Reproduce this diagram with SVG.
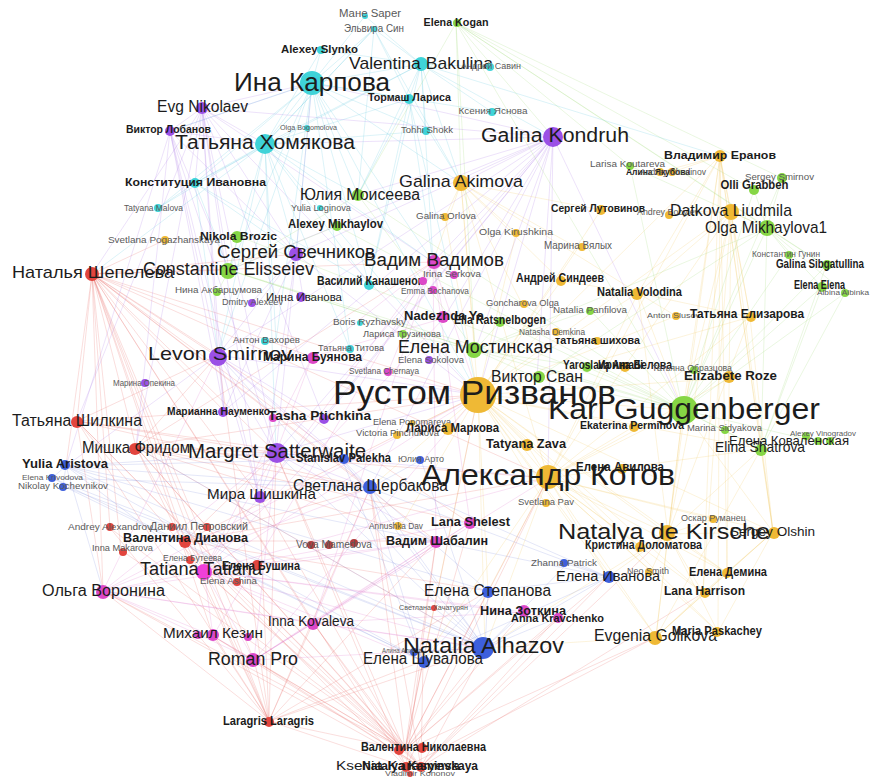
<svg xmlns="http://www.w3.org/2000/svg" width="873" height="777" viewBox="0 0 873 777">
<style>
text{font-family:"Liberation Sans",Arial,sans-serif;text-anchor:middle;fill:#1c1c1c}
.b{font-weight:bold}
.s{fill:#5a5a5a}
.pu{fill:#9b50e6}.cy{fill:#3fd3d8}.gr{fill:#86d645}.or{fill:#efb935}.re{fill:#e2453e}.ma{fill:#dc48c8}.bl{fill:#3d5fdc}.dr{fill:#b23a3a}
.e{fill:none;stroke-width:.6;stroke-opacity:.36}
</style>
<rect width="873" height="777" fill="#ffffff"/>
<g id="edges">
<path class="e" stroke="#e8625e" d="M92 274L77 421M92 274L136 447M92 274L276 453M92 274L259 496M92 274L185 541M92 274L204 571M92 274L103 591M92 274L213 636M92 274L254 660M92 274L110 528M92 274L370 488M92 274L312 357M92 274L218 355M92 274L433 262M92 274L296 254M92 274L478 395M92 274L342 459M92 274L436 541M92 274L313 623M92 274L121 550M92 274L269 721M92 274L224 411M92 274L548 478M92 274L470 523M92 274L229 270M92 274L165 240M92 274L66 466M405 750L269 721M405 750L254 660M405 750L213 636M405 750L103 591M405 750L204 571M405 750L185 541M405 750L313 623M405 750L423 661M405 750L485 648M405 750L488 591M405 750L524 612M405 750L557 618M405 750L436 541M405 750L470 523M405 750L370 488M405 750L276 453M405 750L136 447M405 750L77 421M405 750L548 478M405 750L608 577M405 750L656 637M405 750L478 395M405 750L259 496M405 750L110 528M405 750L121 550M421 767L254 660M421 767L103 591M421 767L213 636M421 767L313 623M421 767L204 571M421 767L485 648M421 767L423 661M421 767L703 593M421 767L668 534M421 767L370 488M421 767L136 447M421 767L77 421M421 767L608 577M421 767L557 618M406 767L269 721M406 767L185 541M406 767L436 541M406 767L276 453M406 767L548 478M406 767L656 637M406 767L92 274M269 721L254 660M269 721L213 636M269 721L103 591M269 721L204 571M269 721L185 541M269 721L313 623M269 721L423 661M269 721L485 648M269 721L370 488M269 721L276 453M269 721L136 447M269 721L77 421M269 721L259 496M269 721L436 541M269 721L110 528M269 721L488 591M269 721L218 355M136 447L276 453M136 447L370 488M136 447L478 395M136 447L548 478M136 447L204 571M136 447L436 541M136 447L470 523M136 447L218 355M136 447L433 262M136 447L485 648M77 421L276 453M77 421L218 355M77 421L370 488M77 421L204 571M77 421L103 591M77 421L478 395M77 421L342 459M185 541L370 488M185 541L478 395M185 541L548 478M185 541L436 541M185 541L488 591M185 541L276 453"/>
<path class="e" stroke="#e070cc" d="M204 571L103 591M204 571L213 636M204 571L254 660M204 571L313 623M204 571L436 541M204 571L470 523M204 571L433 262M204 571L312 357M204 571L444 318M204 571L524 612M204 571L557 618M204 571L276 453M204 571L478 395M204 571L548 478M204 571L423 661M204 571L485 648M254 660L103 591M254 660L213 636M254 660L313 623M254 660L470 523M254 660L436 541M254 660L548 478M254 660L478 395M254 660L485 648M254 660L276 453M103 591L213 636M103 591L313 623M103 591L276 453M103 591L370 488M103 591L436 541M103 591L478 395M103 591L485 648M103 591L218 355M433 262L444 318M433 262L452 275M433 262L388 372M433 262L312 357M433 262L470 523M433 262L436 541M433 262L478 395M433 262L313 623M433 262L213 636M313 623L436 541M313 623L470 523M313 623L524 612M313 623L485 648M313 623L370 488M312 357L444 318M312 357L478 395M312 357L276 453"/>
<path class="e" stroke="#a878e8" d="M553 137L433 262M553 137L444 318M553 137L475 350M553 137L478 395M553 137L296 254M553 137L218 355M553 137L276 453M553 137L461 183M553 137L358 195M553 137L265 144M553 137L312 83M553 137L537 378M553 137L683 410M553 137L548 478M553 137L224 411M553 137L324 419M553 137L259 496M553 137L202 108M553 137L229 270M553 137L370 488M202 108L265 144M202 108L312 83M202 108L218 355M202 108L276 453M202 108L296 254M202 108L229 270M202 108L195 183M202 108L170 131M202 108L259 496M202 108L77 421M202 108L136 447M202 108L224 411M202 108L324 419M202 108L478 395M202 108L433 262M202 108L92 274M170 131L265 144M170 131L218 355M170 131L276 453M170 131L296 254M170 131L229 270M170 131L224 411M170 131L259 496M170 131L66 466M170 131L136 447M170 131L312 83M218 355L276 453M218 355L224 411M218 355L324 419M218 355L259 496M218 355L296 254M218 355L478 395M218 355L370 488M218 355L66 466M218 355L342 459M296 254L276 453M296 254L224 411M296 254L259 496M296 254L478 395M296 254L252 302M296 254L303 297M296 254L312 83M276 453L478 395M276 453L548 478M276 453L370 488M276 453L342 459M276 453L259 496M276 453L436 541"/>
<path class="e" stroke="#5cc8dc" d="M312 83L421 64M312 83L321 50M312 83L374 29M312 83L365 16M312 83L409 99M312 83L265 144M312 83L195 183M312 83L358 195M312 83L461 183M312 83L170 131M312 83L229 270M312 83L296 254M312 83L369 284M312 83L492 112M312 83L426 131M312 83L350 349M312 83L276 340M312 83L158 208M312 83L433 262M312 83L478 395M312 83L218 355M265 144L421 64M265 144L321 50M265 144L409 99M265 144L195 183M265 144L358 195M265 144L229 270M265 144L296 254M265 144L369 284M265 144L158 208M265 144L426 131M265 144L218 355M265 144L276 453M265 144L433 262M265 144L478 395M265 144L350 349M265 144L92 274M265 144L276 340M265 144L374 29M421 64L490 67M421 64L492 112M421 64L426 131M421 64L409 99M421 64L461 183M421 64L553 137M421 64L374 29M421 64L365 16M421 64L433 262M421 64L720 156M421 64L358 195M421 64L369 284M421 64L195 183M421 64L321 50M195 183L229 270M195 183L296 254M195 183L218 355M195 183L369 284M195 183L158 208M409 99L461 183M409 99L358 195M409 99L433 262M409 99L369 284M409 99L478 395M374 29L409 99M374 29L358 195M374 29L461 183M374 29L265 144"/>
<path class="e" stroke="#f0c458" d="M478 395L548 478M478 395L683 410M478 395L668 534M478 395L656 637M478 395L727 573M478 395L703 593M478 395L718 632M478 395L750 317M478 395L731 212M478 395L720 156M478 395L638 293M478 395L561 281M478 395L601 210M478 395L461 183M478 395L527 445M478 395L448 429M478 395L633 427M478 395L640 547M478 395L773 532M478 395L485 648M478 395L423 661M478 395L370 488M478 395L545 503M478 395L730 378M478 395L676 316M478 395L578 248M478 395L516 233M478 395L445 217M478 395L761 449M478 395L608 577M478 395L488 591M478 395L397 435M478 395L400 527M548 478L668 534M548 478L656 637M548 478L718 632M548 478L703 593M548 478L727 573M548 478L773 532M548 478L640 547M548 478L683 410M548 478L761 449M548 478L731 212M548 478L720 156M548 478L750 317M548 478L638 293M548 478L485 648M548 478L608 577M548 478L527 445M548 478L633 427M548 478L730 378M548 478L651 571M548 478L713 519M548 478L423 661M548 478L488 591M668 534L656 637M668 534L718 632M668 534L703 593M668 534L727 573M668 534L773 532M668 534L713 519M668 534L761 449M668 534L720 156M668 534L731 212M668 534L750 317M668 534L638 293M668 534L683 410M668 534L651 571M668 534L485 648M668 534L608 577M731 212L720 156M731 212L767 228M731 212L638 293M731 212L750 317M731 212L683 410M731 212L773 532M731 212L727 573M731 212L703 593M731 212L601 210M731 212L669 215M720 156L660 172M720 156L672 172M720 156L683 410M720 156L750 317M720 156L638 293M720 156L773 532M720 156L727 573M720 156L761 449M720 156L703 593M720 156L718 632M461 183L445 217M461 183L516 233M461 183L578 248M461 183L561 281M461 183L433 262M461 183L475 350M461 183L601 210M461 183L638 293M461 183L523 306M461 183L548 478M656 637L718 632M656 637L703 593M656 637L727 573M656 637L773 532M656 637L485 648M656 637L683 410M656 637L761 449M773 532L718 632M773 532L703 593M773 532L727 573M773 532L761 449M773 532L683 410M773 532L750 317M638 293L750 317M638 293L683 410M638 293L561 281M638 293L676 316"/>
<path class="e" stroke="#9ed870" d="M683 410L767 228M683 410L754 190M683 410L782 178M683 410L630 166M683 410L826 266M683 410L822 287M683 410L845 293M683 410L761 449M683 410L723 430M683 410L537 378M683 410L475 350M683 410L500 322M683 410L810 440M683 410L456 23M683 410L590 310M683 410L358 195M683 410L229 270M683 410L789 255M683 410L587 367M683 410L337 226M683 410L238 236M456 23L630 166M456 23L754 190M456 23L767 228M456 23L553 137M456 23L782 178M456 23L826 266M456 23L475 350M456 23L461 183M456 23L358 195M767 228L754 190M767 228L782 178M767 228L826 266M767 228L822 287M767 228L845 293M767 228L789 255M767 228L630 166M767 228L761 449M767 228L537 378M767 228L475 350M475 350L500 322M475 350L537 378M475 350L590 310M475 350L404 334M475 350L358 195M475 350L229 270M475 350L587 367M229 270L238 236M229 270L218 291M229 270L358 195M229 270L337 226M229 270L475 350M761 449L810 440M761 449L723 430M761 449L826 266M761 449L822 287M761 449L845 293"/>
<path class="e" stroke="#7f90e0" d="M485 648L423 661M485 648L488 591M485 648L608 577M485 648L567 564M485 648L370 488M485 648L342 459M485 648L421 460M485 648L66 466M485 648L52 478M485 648L63 486M485 648L276 453M485 648L524 612M485 648L557 618M485 648L434 608M485 648L412 652M485 648L136 447M485 648L218 355M66 466L370 488M66 466L423 661M66 466L342 459M66 466L276 453M66 466L52 478M66 466L63 486M66 466L488 591M66 466L608 577M66 466L204 571M66 466L103 591M370 488L342 459M370 488L421 460M370 488L423 661M370 488L488 591M370 488L608 577M370 488L52 478M608 577L488 591M608 577L567 564M608 577L423 661M608 577L342 459M423 661L488 591M423 661L342 459M423 661L63 486M423 661L52 478"/>
</g>
<g id="n_mane"><circle class="cy" cx="365" cy="16" r="3"/><text class="s" x="370" y="17" font-size="10" textLength="62" lengthAdjust="spacingAndGlyphs">Мане Saper</text></g>
<g id="n_elvira"><circle class="cy" cx="374" cy="29" r="3"/><text class="s" x="374" y="32" font-size="10" textLength="60" lengthAdjust="spacingAndGlyphs">Эльвира Син</text></g>
<g id="n_kogan"><circle class="gr" cx="457" cy="23" r="4"/><text class="b" x="456" y="25.5" font-size="10" textLength="65" lengthAdjust="spacingAndGlyphs">Elena Kogan</text></g>
<g id="n_slynko"><circle class="cy" cx="321" cy="50" r="4"/><text class="b" x="319.5" y="53" font-size="11" textLength="77" lengthAdjust="spacingAndGlyphs">Alexey Slynko</text></g>
<g id="n_bakulina"><circle class="cy" cx="421" cy="64" r="7"/><text x="421" y="69" font-size="17" textLength="144" lengthAdjust="spacingAndGlyphs">Valentina  Bakulina</text></g>
<g id="n_savin"><circle class="cy" cx="490" cy="67" r="4"/><text class="s" x="491" y="69" font-size="9" textLength="60" lengthAdjust="spacingAndGlyphs">Андрей Савин</text></g>
<g id="n_karpova"><circle class="cy" cx="312" cy="83" r="12"/><text x="312" y="91" font-size="25" textLength="156" lengthAdjust="spacingAndGlyphs">Ина Карпова</text></g>
<g id="n_tormash"><circle class="cy" cx="409" cy="99" r="5"/><text class="b" x="409.5" y="101" font-size="11" textLength="83" lengthAdjust="spacingAndGlyphs">Тормаш Лариса</text></g>
<g id="n_yasnova"><circle class="cy" cx="492" cy="112" r="4"/><text class="s" x="493" y="114" font-size="9.5" textLength="69" lengthAdjust="spacingAndGlyphs">Ксения Яснова</text></g>
<g id="n_nikolaev"><circle class="pu" cx="202" cy="108" r="6"/><text x="202.5" y="111.6" font-size="16" textLength="91" lengthAdjust="spacingAndGlyphs">Evg  Nikolaev</text></g>
<g id="n_lobanov"><circle class="pu" cx="170" cy="131" r="5"/><text class="b" x="168.5" y="132.5" font-size="10" textLength="85" lengthAdjust="spacingAndGlyphs">Виктор Лобанов</text></g>
<g id="n_bogomolova"><circle class="cy" cx="307" cy="128" r="3"/><text class="s" x="308.5" y="129.5" font-size="7" textLength="57" lengthAdjust="spacingAndGlyphs">Olga Bogomolova</text></g>
<g id="n_homyakova"><circle class="cy" cx="265" cy="144" r="10"/><text x="265" y="149" font-size="20" textLength="180" lengthAdjust="spacingAndGlyphs">Татьяна Хомякова</text></g>
<g id="n_shokk"><circle class="cy" cx="426" cy="131" r="4"/><text class="s" x="427" y="133" font-size="9" textLength="52" lengthAdjust="spacingAndGlyphs">Tohhi Shokk</text></g>
<g id="n_kondruh"><circle class="pu" cx="553" cy="137" r="10"/><text x="555" y="142" font-size="20" textLength="148" lengthAdjust="spacingAndGlyphs">Galina  Kondruh</text></g>
<g id="n_konst"><circle class="cy" cx="195" cy="183" r="5"/><text class="b" x="195.5" y="185.5" font-size="10" textLength="141" lengthAdjust="spacingAndGlyphs">Конституция Ивановна</text></g>
<g id="n_moiseeva"><circle class="gr" cx="358" cy="195" r="6"/><text x="360" y="199.6" font-size="16" textLength="120" lengthAdjust="spacingAndGlyphs">Юлия Моисеева</text></g>
<g id="n_akimova"><circle class="or" cx="461" cy="183" r="8"/><text x="461" y="187" font-size="17" textLength="124" lengthAdjust="spacingAndGlyphs">Galina Akimova</text></g>
<g id="n_eranov"><circle class="or" cx="720" cy="156" r="6"/><text class="b" x="720" y="159" font-size="11" textLength="112" lengthAdjust="spacingAndGlyphs">Владимир Еранов</text></g>
<g id="n_koutareva"><circle class="gr" cx="630" cy="166" r="4"/><text class="s" x="627.5" y="167" font-size="9" textLength="75" lengthAdjust="spacingAndGlyphs">Larisa Koutareva</text></g>
<g id="n_alina"><circle class="or" cx="660" cy="172" r="4"/><circle class="or" cx="672" cy="172" r="4"/><text class="b" x="658" y="175" font-size="9" textLength="64" lengthAdjust="spacingAndGlyphs">Алина Якубова</text><text class="s" x="673" y="175" font-size="8.5" textLength="66" lengthAdjust="spacingAndGlyphs">Andrey Chudinov</text></g>
<g id="n_smirnov"><circle class="gr" cx="782" cy="178" r="5"/><text class="s" x="779.5" y="180" font-size="9.5" textLength="69" lengthAdjust="spacingAndGlyphs">Sergey Smirnov</text></g>
<g id="n_grabbeh"><circle class="gr" cx="754" cy="190" r="5"/><text class="b" x="754.5" y="189" font-size="12" textLength="68" lengthAdjust="spacingAndGlyphs">Olli  Grabbeh</text></g>
<g id="n_malova"><circle class="cy" cx="158" cy="208" r="4"/><text class="s" x="153.5" y="211" font-size="8.5" textLength="59" lengthAdjust="spacingAndGlyphs">Tatyana Malova</text></g>
<g id="n_loginova"><circle class="cy" cx="320" cy="208" r="3"/><text class="s" x="321" y="211" font-size="8.5" textLength="60" lengthAdjust="spacingAndGlyphs">Yulia Loginova</text></g>
<g id="n_mikhaylov"><circle class="gr" cx="337" cy="226" r="5"/><text class="b" x="335.5" y="228" font-size="12" textLength="95" lengthAdjust="spacingAndGlyphs">Alexey Mikhaylov</text></g>
<g id="n_gorlova"><circle class="or" cx="445" cy="217" r="4"/><text class="s" x="446" y="219" font-size="9" textLength="60" lengthAdjust="spacingAndGlyphs">Galina Orlova</text></g>
<g id="n_lutovinov"><circle class="or" cx="601" cy="210" r="5"/><text class="b" x="598" y="212" font-size="11" textLength="94" lengthAdjust="spacingAndGlyphs">Сергей Лутовинов</text></g>
<g id="n_andreyb"><circle class="or" cx="669" cy="215" r="4"/><text class="s" x="668" y="215" font-size="8.5" textLength="62" lengthAdjust="spacingAndGlyphs">Andrey Bobylev</text></g>
<g id="n_datkova"><circle class="or" cx="731" cy="212" r="8"/><text x="731" y="216" font-size="17" textLength="122" lengthAdjust="spacingAndGlyphs">Datkova Liudmila</text></g>
<g id="n_mikhaylova"><circle class="gr" cx="767" cy="228" r="8"/><text x="766" y="233" font-size="17" textLength="122" lengthAdjust="spacingAndGlyphs">Olga  Mikhaylova1</text></g>
<g id="n_kirushkina"><circle class="or" cx="516" cy="233" r="4"/><text class="s" x="516" y="235" font-size="9" textLength="74" lengthAdjust="spacingAndGlyphs">Olga  Kirushkina</text></g>
<g id="n_vyalyh"><circle class="or" cx="582" cy="247" r="4"/><text class="s" x="578" y="249" font-size="10" textLength="68" lengthAdjust="spacingAndGlyphs">Марина Вялых</text></g>
<g id="n_pogazh"><circle class="or" cx="165" cy="240" r="4"/><text class="s" x="164" y="243" font-size="9.5" textLength="112" lengthAdjust="spacingAndGlyphs">Svetlana  Pogazhanskaya</text></g>
<g id="n_brozic"><circle class="gr" cx="237" cy="237" r="6"/><text class="b" x="238.5" y="240" font-size="11" textLength="77" lengthAdjust="spacingAndGlyphs">Nikola Brozic</text></g>
<g id="n_svechnikov"><circle class="pu" cx="296" cy="254" r="7"/><text x="296" y="258" font-size="18" textLength="158" lengthAdjust="spacingAndGlyphs">Сергей Свечников</text></g>
<g id="n_elisseiev"><circle class="gr" cx="228" cy="271" r="8"/><text x="228.5" y="274.5" font-size="18" textLength="171" lengthAdjust="spacingAndGlyphs">Constantine Elisseiev</text></g>
<g id="n_vadimov"><circle class="ma" cx="434" cy="262" r="7"/><text x="434" y="266" font-size="18" textLength="140" lengthAdjust="spacingAndGlyphs">Вадим Вадимов</text></g>
<g id="n_gunin"><circle class="gr" cx="789" cy="255" r="4"/><text class="s" x="786" y="257" font-size="8.5" textLength="68" lengthAdjust="spacingAndGlyphs">Константин Гунин</text></g>
<g id="n_sibgat"><circle class="gr" cx="827" cy="265" r="5"/><text class="b" x="820" y="268" font-size="12" textLength="88" lengthAdjust="spacingAndGlyphs">Galina  Sibgatullina</text></g>
<g id="n_shepeleva"><circle class="re" cx="92" cy="274" r="7"/><text x="93" y="278" font-size="17" textLength="162" lengthAdjust="spacingAndGlyphs">Наталья Шепелева</text></g>
<g id="n_elena2"><circle class="gr" cx="822" cy="287" r="5"/><text class="b" x="819.5" y="289" font-size="12" textLength="51" lengthAdjust="spacingAndGlyphs">Elena  Elena</text></g>
<g id="n_albinka"><circle class="gr" cx="845" cy="293" r="4"/><text class="s" x="843" y="295" font-size="8" textLength="52" lengthAdjust="spacingAndGlyphs">Albina Albinka</text></g>
<g id="n_sindeev"><circle class="or" cx="561" cy="281" r="5"/><text class="b" x="560" y="282" font-size="12" textLength="88" lengthAdjust="spacingAndGlyphs">Андрей Синдеев</text></g>
<g id="n_kanashenok"><circle class="cy" cx="369" cy="285" r="5"/><text class="b" x="370" y="285" font-size="12" textLength="106" lengthAdjust="spacingAndGlyphs">Василий Канашенок</text></g>
<g id="n_serkova"><circle class="ma" cx="423" cy="281" r="4"/><circle class="ma" cx="454" cy="275" r="4"/><text class="s" x="452" y="277" font-size="9" textLength="58" lengthAdjust="spacingAndGlyphs">Irina Serkova</text></g>
<g id="n_bochanova"><circle class="ma" cx="433" cy="290" r="4"/><text class="s" x="435" y="294" font-size="9" textLength="68" lengthAdjust="spacingAndGlyphs">Emma Bochanova</text></g>
<g id="n_akbar"><circle class="gr" cx="217" cy="292" r="4"/><text class="s" x="218.5" y="293" font-size="9.5" textLength="87" lengthAdjust="spacingAndGlyphs">Нина Акбарцумова</text></g>
<g id="n_ivanova2"><circle class="pu" cx="301" cy="297" r="5"/><text x="304" y="300.5" font-size="11" textLength="76" lengthAdjust="spacingAndGlyphs">Инна Иванова</text></g>
<g id="n_alexeev"><circle class="pu" cx="252" cy="303" r="4"/><text class="s" x="252.5" y="305" font-size="8.5" textLength="61" lengthAdjust="spacingAndGlyphs">Dmitry Alexeev</text></g>
<g id="n_volodina"><circle class="or" cx="637" cy="294" r="6"/><text class="b" x="639.5" y="296" font-size="12" textLength="85" lengthAdjust="spacingAndGlyphs">Natalia Volodina</text></g>
<g id="n_goncharova"><circle class="or" cx="524" cy="304" r="4"/><text class="s" x="522.5" y="306" font-size="9" textLength="73" lengthAdjust="spacingAndGlyphs">Goncharova  Olga</text></g>
<g id="n_panfilova"><circle class="gr" cx="590" cy="311" r="4"/><text class="s" x="590" y="313" font-size="8.5" textLength="74" lengthAdjust="spacingAndGlyphs">Natalia Panfilova</text></g>
<g id="n_slusov"><circle class="or" cx="676" cy="316" r="4"/><text class="s" x="673.5" y="318" font-size="8" textLength="53" lengthAdjust="spacingAndGlyphs">Anton  Slusov</text></g>
<g id="n_elizarova"><circle class="or" cx="751" cy="317" r="5"/><text class="b" x="747" y="318" font-size="12" textLength="114" lengthAdjust="spacingAndGlyphs">Татьяна Елизарова</text></g>
<g id="n_ryzhavsky"><circle class="cy" cx="360" cy="323" r="3"/><text class="s" x="369.5" y="325" font-size="9.5" textLength="73" lengthAdjust="spacingAndGlyphs">Boris Ryzhavsky</text></g>
<g id="n_nadezhda"><circle class="ma" cx="443" cy="317" r="6"/><text class="b" x="444" y="319.5" font-size="13" textLength="80" lengthAdjust="spacingAndGlyphs">Nadezhda Ya</text></g>
<g id="n_ratsnel"><circle class="gr" cx="500" cy="322" r="5"/><text class="b" x="500" y="324" font-size="12" textLength="92" lengthAdjust="spacingAndGlyphs">Ella Ratsnelbogen</text></g>
<g id="n_demkina"><circle class="or" cx="556" cy="332" r="4"/><text class="s" x="552" y="335" font-size="8.5" textLength="66" lengthAdjust="spacingAndGlyphs">Natasha Demkina</text></g>
<g id="n_vahorev"><circle class="cy" cx="265" cy="341" r="4"/><text class="s" x="266.5" y="343" font-size="9.5" textLength="67" lengthAdjust="spacingAndGlyphs">Антон Вахорев</text></g>
<g id="n_gruzinova"><circle class="gr" cx="403" cy="334" r="4"/><text class="s" x="402" y="337" font-size="9.5" textLength="78" lengthAdjust="spacingAndGlyphs">Лариса Грузинова</text></g>
<g id="n_shihova"><circle class="or" cx="597" cy="341" r="4"/><text class="b" x="597.5" y="344" font-size="11" textLength="85" lengthAdjust="spacingAndGlyphs">татьяна шихова</text></g>
<g id="n_opekina"><circle class="pu" cx="145" cy="383" r="4"/><text class="s" x="144" y="386" font-size="8.5" textLength="62" lengthAdjust="spacingAndGlyphs">Марина Опекина</text></g>
<g id="n_levon"><circle class="pu" cx="218" cy="357" r="9"/><text x="220" y="360" font-size="19" textLength="144" lengthAdjust="spacingAndGlyphs">Levon  Smirnov</text></g>
<g id="n_buyanova"><circle class="ma" cx="313" cy="358" r="6"/><text class="b" x="312.5" y="361" font-size="12" textLength="99" lengthAdjust="spacingAndGlyphs">Марина Буянова</text></g>
<g id="n_titova"><circle class="cy" cx="350" cy="349" r="4"/><text class="s" x="351" y="351" font-size="9" textLength="66" lengthAdjust="spacingAndGlyphs">Татьяна Титова</text></g>
<g id="n_mostinskaya"><circle class="gr" cx="474" cy="350" r="8"/><text x="475.5" y="353" font-size="18" textLength="155" lengthAdjust="spacingAndGlyphs">Елена Мостинская</text></g>
<g id="n_sokolova"><circle class="pu" cx="429" cy="360" r="4"/><text class="s" x="431" y="363" font-size="9" textLength="66" lengthAdjust="spacingAndGlyphs">Elena Sokolova</text></g>
<g id="n_yaroslava"><circle class="gr" cx="587" cy="367" r="5"/><circle class="or" cx="625" cy="367" r="5"/><text class="b" x="603" y="369" font-size="12" textLength="80" lengthAdjust="spacingAndGlyphs">Yaroslava  Amadi</text><text class="b" x="635" y="369" font-size="12" textLength="74" lengthAdjust="spacingAndGlyphs">Ирина Белова</text></g>
<g id="n_obrazcova"><circle class="gr" cx="694" cy="370" r="4"/><text class="s" x="692" y="371" font-size="9" textLength="80" lengthAdjust="spacingAndGlyphs">Татьяна Образцова</text></g>
<g id="n_chernaya"><circle class="ma" cx="388" cy="372" r="4"/><text class="s" x="384" y="374" font-size="8.5" textLength="70" lengthAdjust="spacingAndGlyphs">Svetlana Chernaya</text></g>
<g id="n_svan"><circle class="gr" cx="539" cy="377" r="6"/><text x="537" y="381.6" font-size="16" textLength="92" lengthAdjust="spacingAndGlyphs">Виктор Сван</text></g>
<g id="n_roze"><circle class="or" cx="729" cy="377" r="6"/><text class="b" x="730.5" y="380" font-size="12" textLength="93" lengthAdjust="spacingAndGlyphs">Elizabete  Roze</text></g>
<g id="n_rizvanov"><circle class="or" cx="478" cy="395" r="18"/><text x="474.5" y="403.5" font-size="33" textLength="283" lengthAdjust="spacingAndGlyphs">Рустом Ризванов</text></g>
<g id="n_karl"><circle class="gr" cx="684" cy="410" r="14"/><text x="684" y="418.5" font-size="30" textLength="272" lengthAdjust="spacingAndGlyphs">Karl Guggenberger</text></g>
<g id="n_shilkina"><circle class="re" cx="77" cy="422" r="6"/><text x="77" y="425.6" font-size="16" textLength="130" lengthAdjust="spacingAndGlyphs">Татьяна Шилкина</text></g>
<g id="n_naumenko"><circle class="pu" cx="223" cy="412" r="5"/><text class="b" x="218.5" y="415" font-size="11" textLength="103" lengthAdjust="spacingAndGlyphs">Марианна Науменко</text></g>
<g id="n_ptichkina"><circle class="ma" cx="273" cy="418" r="4"/><circle class="pu" cx="324" cy="419" r="5"/><text class="b" x="319.5" y="420" font-size="12" textLength="103" lengthAdjust="spacingAndGlyphs">Tasha Ptichkina</text></g>
<g id="n_ponomareva"><circle class="or" cx="412" cy="423" r="3"/><text class="s" x="412" y="425" font-size="9" textLength="78" lengthAdjust="spacingAndGlyphs">Elena Ponomareva</text></g>
<g id="n_pinchuk"><circle class="or" cx="397" cy="435" r="4"/><text class="s" x="397.5" y="436" font-size="8.5" textLength="83" lengthAdjust="spacingAndGlyphs">Victoria Pinchukova</text></g>
<g id="n_markova"><circle class="or" cx="448" cy="429" r="6"/><text class="b" x="452.5" y="431.5" font-size="13" textLength="93" lengthAdjust="spacingAndGlyphs">Лариса Маркова</text></g>
<g id="n_zava"><circle class="or" cx="527" cy="445" r="6"/><text class="b" x="526" y="447.5" font-size="13" textLength="80" lengthAdjust="spacingAndGlyphs">Tatyana Zava</text></g>
<g id="n_perminova"><circle class="or" cx="634" cy="427" r="5"/><text class="b" x="632" y="429" font-size="11" textLength="104" lengthAdjust="spacingAndGlyphs">Ekaterina Perminova</text></g>
<g id="n_sidyakova"><circle class="gr" cx="725" cy="430" r="4"/><text class="s" x="724.5" y="431" font-size="9" textLength="75" lengthAdjust="spacingAndGlyphs">Marina Sidyakova</text></g>
<g id="n_kovalenskaya"><circle class="gr" cx="806" cy="436" r="4"/><circle class="gr" cx="818" cy="441" r="4"/><circle class="gr" cx="830" cy="441" r="4"/><text class="s" x="823" y="436" font-size="8" textLength="66" lengthAdjust="spacingAndGlyphs">Alexey Vinogradov</text><text x="789" y="444.5" font-size="13" textLength="120" lengthAdjust="spacingAndGlyphs">Елена Коваленская</text></g>
<g id="n_shatrova"><circle class="gr" cx="761" cy="450" r="6"/><text x="760" y="452" font-size="15" textLength="90" lengthAdjust="spacingAndGlyphs">Elina  Shatrova</text></g>
<g id="n_fridom"><circle class="re" cx="135" cy="449" r="6"/><text x="136" y="452.6" font-size="16" textLength="108" lengthAdjust="spacingAndGlyphs">Мишка Фридом</text></g>
<g id="n_margret"><circle class="pu" cx="277" cy="453" r="10"/><text x="277" y="458" font-size="20" textLength="178" lengthAdjust="spacingAndGlyphs">Margret Satterwaite</text></g>
<g id="n_palekha"><circle class="bl" cx="344" cy="459" r="5"/><text class="b" x="343.5" y="462" font-size="12" textLength="95" lengthAdjust="spacingAndGlyphs">Stanislav Palekha</text></g>
<g id="n_yuliaarto"><circle class="bl" cx="420" cy="460" r="4"/><text class="s" x="421" y="462" font-size="9.5" textLength="46" lengthAdjust="spacingAndGlyphs">Юлия Арто</text></g>
<g id="n_avilova"><circle class="or" cx="622" cy="469" r="5"/><text class="b" x="620" y="471" font-size="12" textLength="88" lengthAdjust="spacingAndGlyphs">Елена Авилова</text></g>
<g id="n_kotov"><circle class="or" cx="548" cy="477" r="12"/><text x="548" y="484.5" font-size="30" textLength="254" lengthAdjust="spacingAndGlyphs">Александр Котов</text></g>
<g id="n_aristova"><circle class="bl" cx="65" cy="465" r="5"/><text class="b" x="65" y="468" font-size="12" textLength="86" lengthAdjust="spacingAndGlyphs">Yulia  Aristova</text></g>
<g id="n_krivodova"><circle class="bl" cx="52" cy="478" r="4"/><text class="s" x="52.5" y="480" font-size="8" textLength="61" lengthAdjust="spacingAndGlyphs">Elena Krivodova</text></g>
<g id="n_kochevnikov"><circle class="bl" cx="63" cy="487" r="4"/><text class="s" x="63" y="489" font-size="8.5" textLength="90" lengthAdjust="spacingAndGlyphs">Nikolay  Kochevnikov</text></g>
<g id="n_scherbakova"><circle class="bl" cx="370" cy="487" r="7"/><text x="370.5" y="491" font-size="16" textLength="155" lengthAdjust="spacingAndGlyphs">Светлана Щербакова</text></g>
<g id="n_pav"><circle class="or" cx="546" cy="503" r="4"/><text class="s" x="546" y="505" font-size="8.5" textLength="56" lengthAdjust="spacingAndGlyphs">Svetlana  Pav</text></g>
<g id="n_shishkina"><circle class="pu" cx="260" cy="497" r="6"/><text x="261.5" y="499" font-size="15" textLength="109" lengthAdjust="spacingAndGlyphs">Мира Шишкина</text></g>
<g id="n_alexandrov"><circle class="re" cx="110" cy="527" r="4"/><text class="s" x="110" y="530" font-size="9" textLength="84" lengthAdjust="spacingAndGlyphs">Andrey  Alexandrov</text></g>
<g id="n_petrovsky"><circle class="re" cx="172" cy="527" r="4"/><circle class="re" cx="207" cy="527" r="4"/><text class="s" x="199" y="530" font-size="10" textLength="98" lengthAdjust="spacingAndGlyphs">Даниил Петровский</text></g>
<g id="n_dianova"><circle class="re" cx="185" cy="542" r="6"/><text class="b" x="185.5" y="542" font-size="12" textLength="125" lengthAdjust="spacingAndGlyphs">Валентина Дианова</text></g>
<g id="n_makarova"><circle class="re" cx="123" cy="552" r="4"/><text class="s" x="122.5" y="551" font-size="9" textLength="61" lengthAdjust="spacingAndGlyphs">Inna Makarova</text></g>
<g id="n_buteeva"><circle class="re" cx="190" cy="560" r="4"/><text class="s" x="192.5" y="561" font-size="8.5" textLength="59" lengthAdjust="spacingAndGlyphs">Елена Бутеева</text></g>
<g id="n_tatiana"><circle cx="204" cy="572" r="8" fill="#f040d8"/><text x="201" y="575" font-size="18" textLength="122" lengthAdjust="spacingAndGlyphs">Tatiana Tatiana</text></g>
<g id="n_bushina"><circle class="re" cx="257" cy="565" r="5"/><text class="b" x="261" y="570" font-size="12" textLength="78" lengthAdjust="spacingAndGlyphs">Елена Бушина</text></g>
<g id="n_ashina"><circle class="re" cx="237" cy="582" r="4"/><text class="s" x="228.5" y="584" font-size="9" textLength="57" lengthAdjust="spacingAndGlyphs">Elena Ashina</text></g>
<g id="n_lana"><circle class="ma" cx="470" cy="523" r="6"/><text class="b" x="470.5" y="525.5" font-size="13" textLength="79" lengthAdjust="spacingAndGlyphs">Lana Shelest</text></g>
<g id="n_annushka"><circle class="or" cx="398" cy="526" r="4"/><text class="s" x="396" y="529" font-size="8.5" textLength="54" lengthAdjust="spacingAndGlyphs">Annushka Dav</text></g>
<g id="n_shabalin"><circle class="ma" cx="436" cy="542" r="6"/><text class="b" x="437" y="544.5" font-size="13" textLength="102" lengthAdjust="spacingAndGlyphs">Вадим Шабалин</text></g>
<g id="n_vova"><circle class="dr" cx="311" cy="545" r="4"/><circle class="dr" cx="329" cy="545" r="4"/><circle class="dr" cx="354" cy="543" r="4"/><text class="s" x="334" y="548" font-size="10" textLength="76" lengthAdjust="spacingAndGlyphs">Vova Mamedova</text></g>
<g id="n_olshin"><circle class="or" cx="774" cy="533" r="6"/><text x="772.5" y="535.5" font-size="13" textLength="85" lengthAdjust="spacingAndGlyphs">Sergey  Olshin</text></g>
<g id="n_rumanets"><circle class="or" cx="713" cy="519" r="4"/><text class="s" x="713.5" y="521" font-size="9.5" textLength="65" lengthAdjust="spacingAndGlyphs">Оскар Руманец</text></g>
<g id="n_kirsche"><circle class="or" cx="667" cy="533" r="8"/><text x="664" y="539" font-size="22" textLength="212" lengthAdjust="spacingAndGlyphs">Natalya de Kirsche</text></g>
<g id="n_dolomatova"><circle class="or" cx="640" cy="547" r="5"/><text class="b" x="643.5" y="549" font-size="12" textLength="117" lengthAdjust="spacingAndGlyphs">Кристина Доломатова</text></g>
<g id="n_zhanna"><circle class="bl" cx="564" cy="563" r="4"/><text class="s" x="564" y="566" font-size="9" textLength="66" lengthAdjust="spacingAndGlyphs">Zhanna Patrick</text></g>
<g id="n_neo"><circle class="or" cx="649" cy="572" r="4"/><text class="s" x="648" y="574" font-size="9" textLength="42" lengthAdjust="spacingAndGlyphs">Neo Smith</text></g>
<g id="n_demina"><circle class="or" cx="727" cy="573" r="5"/><text class="b" x="728" y="576" font-size="12" textLength="78" lengthAdjust="spacingAndGlyphs">Елена Демина</text></g>
<g id="n_ivanova"><circle class="bl" cx="609" cy="577" r="6"/><text x="608" y="581" font-size="14" textLength="104" lengthAdjust="spacingAndGlyphs">Елена Иванова</text></g>
<g id="n_voronina"><circle class="ma" cx="103" cy="592" r="7"/><text x="103.5" y="595.6" font-size="16" textLength="123" lengthAdjust="spacingAndGlyphs">Ольга Воронина</text></g>
<g id="n_stepanova"><circle class="bl" cx="488" cy="592" r="6"/><text x="487.5" y="595.6" font-size="16" textLength="127" lengthAdjust="spacingAndGlyphs">Елена Степанова</text></g>
<g id="n_harrison"><circle class="or" cx="705" cy="593" r="5"/><text class="b" x="704.5" y="595" font-size="12" textLength="81" lengthAdjust="spacingAndGlyphs">Lana Harrison</text></g>
<g id="n_zotkina"><circle class="ma" cx="524" cy="611" r="6"/><text class="b" x="523" y="614.5" font-size="13" textLength="86" lengthAdjust="spacingAndGlyphs">Нина Зоткина</text></g>
<g id="n_kravchenko"><circle class="ma" cx="558" cy="618" r="5"/><text class="b" x="557.5" y="622" font-size="11" textLength="93" lengthAdjust="spacingAndGlyphs">Anna Kravchenko</text></g>
<g id="n_hachatur"><circle class="re" cx="434" cy="608" r="3"/><text class="s" x="433.5" y="609.5" font-size="7.5" textLength="69" lengthAdjust="spacingAndGlyphs">Светлана Хачатурян</text></g>
<g id="n_kovaleva"><circle class="ma" cx="313" cy="624" r="6"/><text x="311" y="626" font-size="14" textLength="86" lengthAdjust="spacingAndGlyphs">Inna  Kovaleva</text></g>
<g id="n_kezin"><circle class="ma" cx="198" cy="635" r="4"/><circle class="ma" cx="248" cy="637" r="4"/><circle class="ma" cx="213" cy="635" r="6"/><text x="213" y="638" font-size="15" textLength="100" lengthAdjust="spacingAndGlyphs">Михаил Кезин</text></g>
<g id="n_golikova"><circle class="or" cx="655" cy="638" r="7"/><text x="655.5" y="640.6" font-size="16" textLength="123" lengthAdjust="spacingAndGlyphs">Evgenia  Golikova</text></g>
<g id="n_paskachey"><circle class="or" cx="717" cy="632" r="5"/><text class="b" x="717" y="635" font-size="12" textLength="90" lengthAdjust="spacingAndGlyphs">Maria  Paskachey</text></g>
<g id="n_aliyeva"><circle class="bl" cx="414" cy="652" r="4"/><text class="s" x="402" y="652.5" font-size="7" textLength="40" lengthAdjust="spacingAndGlyphs">Алина Алиева</text></g>
<g id="n_alhazov"><circle class="bl" cx="483" cy="648" r="11"/><text x="483.5" y="653" font-size="22" textLength="161" lengthAdjust="spacingAndGlyphs">Natalia Alhazov</text></g>
<g id="n_shuvalova"><circle class="bl" cx="424" cy="662" r="6"/><text x="423" y="664" font-size="16" textLength="120" lengthAdjust="spacingAndGlyphs">Елена Шувалова</text></g>
<g id="n_roman"><circle class="ma" cx="253" cy="660" r="7"/><text x="253" y="665" font-size="18" textLength="90" lengthAdjust="spacingAndGlyphs">Roman Pro</text></g>
<g id="n_laragris"><circle class="re" cx="269" cy="722" r="5"/><text class="b" x="268.5" y="725" font-size="12" textLength="91" lengthAdjust="spacingAndGlyphs">Laragris  Laragris</text></g>
<g id="n_nikolaevna"><circle class="re" cx="399" cy="750" r="5"/><circle class="re" cx="422" cy="748" r="5"/><text class="b" x="423.5" y="751" font-size="12" textLength="125" lengthAdjust="spacingAndGlyphs">Валентина Николаевна</text></g>
<g id="n_kaminskaya"><circle class="re" cx="406" cy="767" r="5"/><circle class="re" cx="421" cy="767" r="5"/><text x="398" y="769.5" font-size="13" textLength="124" lengthAdjust="spacingAndGlyphs">Ksenia Karasyeva</text><text class="b" x="420" y="769.5" font-size="12" textLength="116" lengthAdjust="spacingAndGlyphs">Natalya Kaminskaya</text></g>
<g id="n_vladimir"><circle class="re" cx="410" cy="774" r="3"/><text class="s" x="420" y="776" font-size="7" textLength="70" lengthAdjust="spacingAndGlyphs">Vladimir Kononov</text></g>
</svg>
